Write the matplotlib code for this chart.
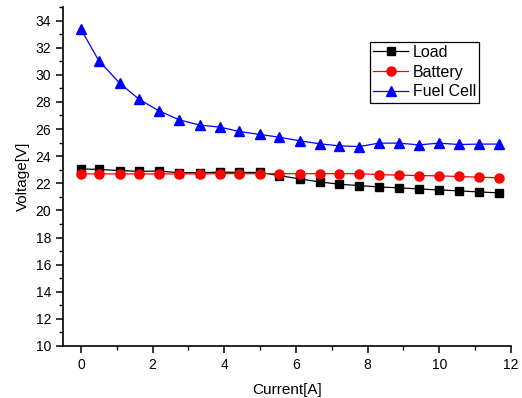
import matplotlib
matplotlib.use("Agg")
import matplotlib.pyplot as plt
from matplotlib.ticker import MultipleLocator

plt.rcParams['font.family'] = ['Liberation Sans', 'DejaVu Sans']

current = [0.0, 0.5, 1.08, 1.62, 2.18, 2.74, 3.32, 3.88, 4.42, 4.99, 5.53,
           6.11, 6.67, 7.21, 7.77, 8.32, 8.88, 9.43, 9.99, 10.54, 11.12, 11.66]
load = [23.06, 23.02, 22.94, 22.88, 22.9, 22.78, 22.78, 22.82, 22.8, 22.8, 22.57,
        22.32, 22.1, 21.93, 21.83, 21.73, 21.66, 21.58, 21.51, 21.44, 21.36, 21.29]
battery = [22.69, 22.69, 22.69, 22.69, 22.69, 22.69, 22.69, 22.71, 22.71, 22.71, 22.71,
           22.71, 22.71, 22.71, 22.71, 22.64, 22.6, 22.57, 22.55, 22.5, 22.45, 22.4]
fuel_cell = [33.37, 31.03, 29.39, 28.2, 27.34, 26.68, 26.29, 26.14, 25.82, 25.6, 25.4,
             25.13, 24.91, 24.76, 24.71, 24.96, 24.96, 24.83, 24.96, 24.86, 24.89, 24.89]

fig = plt.figure(figsize=(5.22, 3.98), dpi=100)
ax = fig.add_axes([0.1207, 0.1307, 0.858, 0.8517])

ax.plot(current, load, color='black', marker='s', markersize=5.3, linewidth=0.9, label='Load')
ax.plot(current, battery, color='red', marker='o', markersize=6.5, linewidth=0.9, label='Battery')
ax.plot(current, fuel_cell, color='blue', marker='^', markersize=7.2, linewidth=0.9, label='Fuel Cell')

ax.set_xlim(-0.5, 12)
ax.set_ylim(10, 35)
ax.xaxis.set_major_locator(MultipleLocator(2))
ax.xaxis.set_minor_locator(MultipleLocator(1))
ax.yaxis.set_major_locator(MultipleLocator(2))
ax.yaxis.set_minor_locator(MultipleLocator(1))
ax.set_yticks(range(10, 35, 2))

ax.spines['top'].set_visible(False)
ax.spines['right'].set_visible(False)
for s in ['left', 'bottom']:
    ax.spines[s].set_linewidth(1.2)
ax.tick_params(which='major', direction='out', length=5, width=1.1, labelsize=10)
ax.tick_params(which='minor', direction='out', length=3, width=1.0)

ax.set_xlabel('Current[A]', fontsize=11, labelpad=8)
ax.set_ylabel('Voltage[V]', fontsize=11, labelpad=4)

leg = ax.legend(loc='upper left', bbox_to_anchor=(0.685, 0.898), fontsize=11.5,
                fancybox=False, framealpha=1, edgecolor='black',
                handlelength=2.2, borderpad=0.2, labelspacing=0.3,
                handletextpad=0.3, borderaxespad=0)
leg.get_frame().set_linewidth(0.9)

fig.savefig('out.png', dpi=100)
